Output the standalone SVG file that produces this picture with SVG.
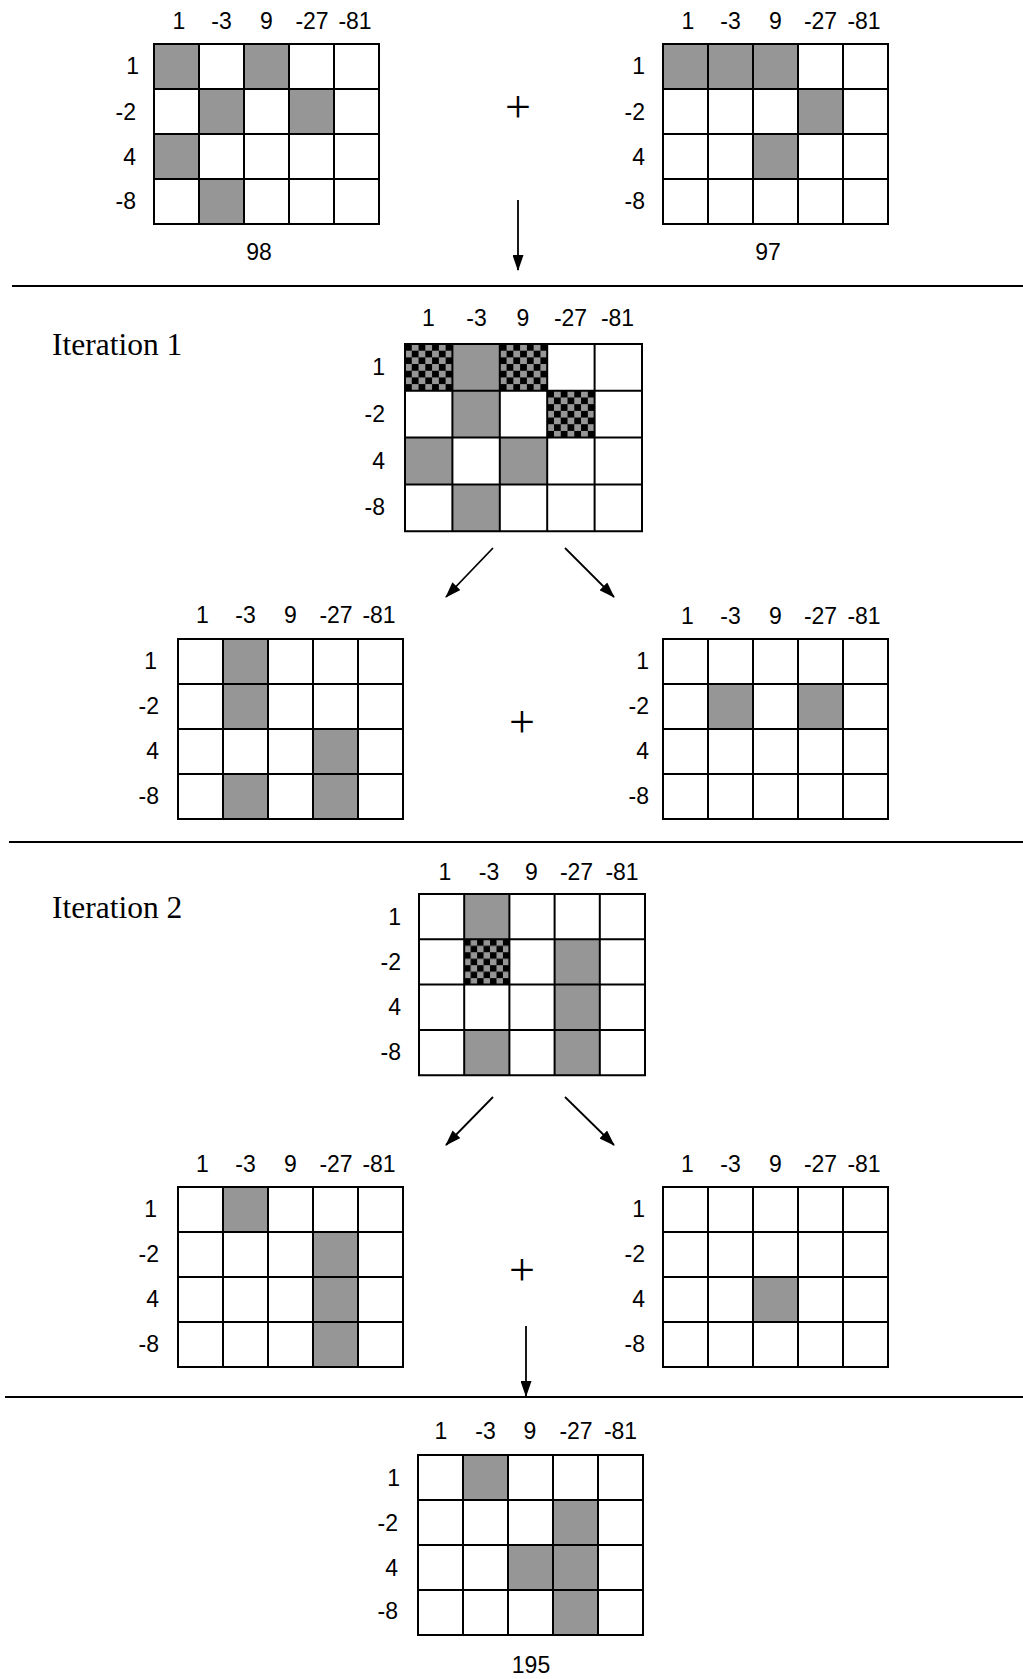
<svg xmlns="http://www.w3.org/2000/svg" width="1023" height="1679" viewBox="0 0 1023 1679">
<style>
.bg{fill:#fff}
.g{fill:#969696}
.c{fill:url(#chk)}
.grid{fill:none;stroke:#000;stroke-width:2}
.lab{font-family:"Liberation Sans",Arial,sans-serif;font-size:23px;fill:#000}
.col{text-anchor:middle}
.row{text-anchor:end}
.res{font-family:"Liberation Sans",Arial,sans-serif;font-size:23px;fill:#000;text-anchor:middle}
.it{font-family:"Liberation Serif","Times New Roman",serif;font-size:31.5px;fill:#000}
.plus{font-family:"Liberation Serif","Times New Roman",serif;font-size:46px;fill:#000;text-anchor:middle}
.sep{stroke:#000;stroke-width:2;fill:none}
.arr{stroke:#000;stroke-width:1.8;fill:none;marker-end:url(#ah)}
</style>
<defs>
<pattern id="chk" patternUnits="objectBoundingBox" patternContentUnits="objectBoundingBox" width="0.285714" height="0.285714">
<rect width="0.285714" height="0.285714" fill="#969696"/>
<rect width="0.142857" height="0.142857" fill="#000"/>
<rect x="0.142857" y="0.142857" width="0.142857" height="0.142857" fill="#000"/>
</pattern>
<marker id="ah" viewBox="0 0 16 11" refX="15" refY="5.5" markerWidth="16" markerHeight="11" markerUnits="userSpaceOnUse" orient="auto">
<path d="M0,0 L16,5.5 L0,11 Z" fill="#000"/>
</marker>
</defs>
<rect width="1023" height="1679" class="bg"/>

<g id="connectors">
<line class="arr" x1="518" y1="200" x2="518" y2="270"/>
<line class="arr" x1="493" y1="548" x2="446" y2="597"/>
<line class="arr" x1="565" y1="548" x2="614" y2="597"/>
<line class="arr" x1="493" y1="1097" x2="446" y2="1145"/>
<line class="arr" x1="565" y1="1097" x2="614" y2="1145"/>
<line class="arr" x1="526" y1="1326" x2="526" y2="1396"/>
</g>

<g id="separators">
<line class="sep" x1="12" y1="286" x2="1023" y2="286"/>
<line class="sep" x1="9" y1="842" x2="1023" y2="842"/>
<line class="sep" x1="5" y1="1397" x2="1023" y2="1397"/>
</g>

<g id="labels">
<text class="it" x="52" y="355">Iteration 1</text>
<text class="it" x="52" y="918">Iteration 2</text>
<text class="plus" x="518" y="121.5">+</text>
<text class="plus" x="522" y="737">+</text>
<text class="plus" x="522" y="1284.5">+</text>
</g>

<!-- Grid A: 98 -->
<g id="grid-98" transform="translate(154,44)">
<rect x="0" y="0" width="225" height="180" class="bg"/>
<rect class="g" x="0" y="0" width="45" height="45"/>
<rect class="g" x="90" y="0" width="45" height="45"/>
<rect class="g" x="45" y="45" width="45" height="45"/>
<rect class="g" x="135" y="45" width="45" height="45"/>
<rect class="g" x="0" y="90" width="45" height="45"/>
<rect class="g" x="45" y="135" width="45" height="45"/>
<path class="grid" d="M0,0H225V180H0Z M45,0V180 M90,0V180 M135,0V180 M180,0V180 M0,45H225 M0,90H225 M0,135H225"/>
<text class="lab col" x="25" y="-15">1</text><text class="lab col" x="67.5" y="-15">-3</text><text class="lab col" x="112.5" y="-15">9</text><text class="lab col" x="158" y="-15">-27</text><text class="lab col" x="201" y="-15">-81</text>
<text class="lab row" x="-15" y="30">1</text><text class="lab row" x="-18" y="75.5">-2</text><text class="lab row" x="-18" y="120.5">4</text><text class="lab row" x="-18" y="165">-8</text>
<text class="res" x="105" y="216">98</text>
</g>

<!-- Grid B: 97 -->
<g id="grid-97" transform="translate(663,44)">
<rect x="0" y="0" width="225" height="180" class="bg"/>
<rect class="g" x="0" y="0" width="135" height="45"/>
<rect class="g" x="135" y="45" width="45" height="45"/>
<rect class="g" x="90" y="90" width="45" height="45"/>
<path class="grid" d="M0,0H225V180H0Z M45,0V180 M90,0V180 M135,0V180 M180,0V180 M0,45H225 M0,90H225 M0,135H225"/>
<text class="lab col" x="25" y="-15">1</text><text class="lab col" x="67.5" y="-15">-3</text><text class="lab col" x="112.5" y="-15">9</text><text class="lab col" x="157.5" y="-15">-27</text><text class="lab col" x="201" y="-15">-81</text>
<text class="lab row" x="-18" y="30">1</text><text class="lab row" x="-18" y="75.5">-2</text><text class="lab row" x="-18" y="120.5">4</text><text class="lab row" x="-18" y="165">-8</text>
<text class="res" x="105" y="216">97</text>
</g>

<!-- Grid C: iteration 1 sum -->
<g id="grid-it1" transform="translate(405,344)">
<rect x="0" y="0" width="237" height="187" class="bg"/>
<rect class="c" x="0" y="0" width="47.4" height="46.8"/>
<rect class="g" x="47.4" y="0" width="47.4" height="93.6"/>
<rect class="c" x="94.8" y="0" width="47.4" height="46.8"/>
<rect class="c" x="142.2" y="46.8" width="47.4" height="46.8"/>
<rect class="g" x="0" y="93.6" width="47.4" height="46.8"/>
<rect class="g" x="94.8" y="93.6" width="47.4" height="46.8"/>
<rect class="g" x="47.4" y="140.4" width="47.4" height="46.8"/>
<path class="grid" d="M0,0H237V187.2H0Z M47.4,0V187.2 M94.8,0V187.2 M142.2,0V187.2 M189.6,0V187.2 M0,46.8H237 M0,93.6H237 M0,140.4H237"/>
<text class="lab col" x="23.5" y="-18">1</text><text class="lab col" x="71.5" y="-18">-3</text><text class="lab col" x="118" y="-18">9</text><text class="lab col" x="165.5" y="-18">-27</text><text class="lab col" x="212.5" y="-18">-81</text>
<text class="lab row" x="-20" y="31">1</text><text class="lab row" x="-20" y="78">-2</text><text class="lab row" x="-20" y="124.5">4</text><text class="lab row" x="-20" y="171">-8</text>
</g>

<!-- Grid D: iteration 1 left -->
<g id="grid-it1-left" transform="translate(178,639)">
<rect x="0" y="0" width="225" height="180" class="bg"/>
<rect class="g" x="45" y="0" width="45" height="90"/>
<rect class="g" x="45" y="135" width="45" height="45"/>
<rect class="g" x="135" y="90" width="45" height="90"/>
<path class="grid" d="M0,0H225V180H0Z M45,0V180 M90,0V180 M135,0V180 M180,0V180 M0,45H225 M0,90H225 M0,135H225"/>
<text class="lab col" x="24.5" y="-16">1</text><text class="lab col" x="67.5" y="-16">-3</text><text class="lab col" x="112.5" y="-16">9</text><text class="lab col" x="158" y="-16">-27</text><text class="lab col" x="201" y="-16">-81</text>
<text class="lab row" x="-21" y="30">1</text><text class="lab row" x="-19" y="75">-2</text><text class="lab row" x="-19" y="120">4</text><text class="lab row" x="-19" y="165">-8</text>
</g>

<!-- Grid E: iteration 1 right -->
<g id="grid-it1-right" transform="translate(663,639)">
<rect x="0" y="0" width="225" height="180" class="bg"/>
<rect class="g" x="45" y="45" width="45" height="45"/>
<rect class="g" x="135" y="45" width="45" height="45"/>
<path class="grid" d="M0,0H225V180H0Z M45,0V180 M90,0V180 M135,0V180 M180,0V180 M0,45H225 M0,90H225 M0,135H225"/>
<text class="lab col" x="24.5" y="-15">1</text><text class="lab col" x="67.5" y="-15">-3</text><text class="lab col" x="112.5" y="-15">9</text><text class="lab col" x="157.5" y="-15">-27</text><text class="lab col" x="201" y="-15">-81</text>
<text class="lab row" x="-14" y="30">1</text><text class="lab row" x="-14" y="75">-2</text><text class="lab row" x="-14" y="120">4</text><text class="lab row" x="-14" y="165">-8</text>
</g>

<!-- Grid F: iteration 2 sum -->
<g id="grid-it2" transform="translate(419,894)">
<rect x="0" y="0" width="226" height="181.2" class="bg"/>
<rect class="g" x="45.2" y="0" width="45.2" height="45.3"/>
<rect class="c" x="45.2" y="45.3" width="45.2" height="45.3"/>
<rect class="g" x="135.6" y="45.3" width="45.2" height="135.9"/>
<rect class="g" x="45.2" y="135.9" width="45.2" height="45.3"/>
<path class="grid" d="M0,0H226V181.2H0Z M45.2,0V181.2 M90.4,0V181.2 M135.6,0V181.2 M180.8,0V181.2 M0,45.3H226 M0,90.6H226 M0,135.9H226"/>
<text class="lab col" x="26" y="-14">1</text><text class="lab col" x="70" y="-14">-3</text><text class="lab col" x="112.5" y="-14">9</text><text class="lab col" x="157.5" y="-14">-27</text><text class="lab col" x="203" y="-14">-81</text>
<text class="lab row" x="-18" y="30.5">1</text><text class="lab row" x="-18" y="75.5">-2</text><text class="lab row" x="-18" y="121">4</text><text class="lab row" x="-18" y="166">-8</text>
</g>

<!-- Grid G: iteration 2 left -->
<g id="grid-it2-left" transform="translate(178,1187)">
<rect x="0" y="0" width="225" height="180" class="bg"/>
<rect class="g" x="45" y="0" width="45" height="45"/>
<rect class="g" x="135" y="45" width="45" height="135"/>
<path class="grid" d="M0,0H225V180H0Z M45,0V180 M90,0V180 M135,0V180 M180,0V180 M0,45H225 M0,90H225 M0,135H225"/>
<text class="lab col" x="24.5" y="-15">1</text><text class="lab col" x="67.5" y="-15">-3</text><text class="lab col" x="112.5" y="-15">9</text><text class="lab col" x="158" y="-15">-27</text><text class="lab col" x="201" y="-15">-81</text>
<text class="lab row" x="-21" y="30">1</text><text class="lab row" x="-19" y="75">-2</text><text class="lab row" x="-19" y="120">4</text><text class="lab row" x="-19" y="165">-8</text>
</g>

<!-- Grid H: iteration 2 right -->
<g id="grid-it2-right" transform="translate(663,1187)">
<rect x="0" y="0" width="225" height="180" class="bg"/>
<rect class="g" x="90" y="90" width="45" height="45"/>
<path class="grid" d="M0,0H225V180H0Z M45,0V180 M90,0V180 M135,0V180 M180,0V180 M0,45H225 M0,90H225 M0,135H225"/>
<text class="lab col" x="24.5" y="-15">1</text><text class="lab col" x="67.5" y="-15">-3</text><text class="lab col" x="112.5" y="-15">9</text><text class="lab col" x="157.5" y="-15">-27</text><text class="lab col" x="201" y="-15">-81</text>
<text class="lab row" x="-18" y="30">1</text><text class="lab row" x="-18" y="75">-2</text><text class="lab row" x="-18" y="120">4</text><text class="lab row" x="-18" y="165">-8</text>
</g>

<!-- Grid I: result 195 -->
<g id="grid-195" transform="translate(418,1455)">
<rect x="0" y="0" width="225" height="180" class="bg"/>
<rect class="g" x="45" y="0" width="45" height="45"/>
<rect class="g" x="135" y="45" width="45" height="135"/>
<rect class="g" x="90" y="90" width="45" height="45"/>
<path class="grid" d="M0,0H225V180H0Z M45,0V180 M90,0V180 M135,0V180 M180,0V180 M0,45H225 M0,90H225 M0,135H225"/>
<text class="lab col" x="23" y="-16">1</text><text class="lab col" x="67.5" y="-16">-3</text><text class="lab col" x="112" y="-16">9</text><text class="lab col" x="158" y="-16">-27</text><text class="lab col" x="202.5" y="-16">-81</text>
<text class="lab row" x="-18" y="30.5">1</text><text class="lab row" x="-20" y="75.5">-2</text><text class="lab row" x="-20" y="120.5">4</text><text class="lab row" x="-20" y="164">-8</text>
<text class="res" x="113" y="218">195</text>
</g>
</svg>
